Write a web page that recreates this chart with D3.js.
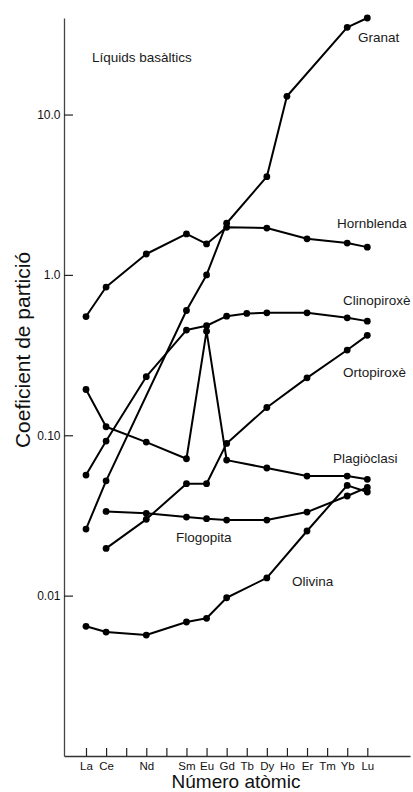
<!DOCTYPE html>
<html>
<head>
<meta charset="utf-8">
<script src="https://cdn.jsdelivr.net/npm/d3@7"></script>
<style>
  html, body { margin: 0; padding: 0; background: #fff; }
  svg { display: block; font-family: "Liberation Sans", Arial, sans-serif; }
</style>
</head>
<body>
<svg id="chart" width="413" height="792"></svg>
<script>
// ---- data ----
const elements = ['La','Ce','Pr','Nd','Pm','Sm','Eu','Gd','Tb','Dy','Ho','Er','Tm','Yb','Lu'];
const atomicNumbers = [57,58,59,60,61,62,63,64,65,66,67,68,69,70,71];
const xTickLabels = ['La','Ce','','Nd','','Sm','Eu','Gd','Tb','Dy','Ho','Er','Tm','Yb','Lu'];
const yTickValues = [0.01, 0.1, 1, 10];
const yTickLabels = ['0.01', '0.10', '1.0', '10.0'];

const granat      = [0.026, 0.052, null, null,   null, 0.60,   1.0,    2.1,    null,  4.1,    13,   null,   null, 35,     40];
const hornblenda  = [0.55,  0.84,  null, 1.35,   null, 1.80,   1.56,   1.98,   null,  1.96,   null, 1.68,   null, 1.58,   1.49];
const clinopiroxe = [0.0565,0.092, null, 0.232,  null, 0.453,  0.482,  0.553,  0.575, 0.58,   null, 0.58,   null, 0.54,   0.515];
const ortopiroxe  = [null,  0.0197,null, 0.0299, null, 0.0499, 0.0499, 0.089,  null,  0.149,  null, 0.228,  null, 0.34,   0.42];
const plagioclasi = [0.193, 0.113, null, 0.0907, null, 0.0714, 0.446,  0.070,  null,  0.0625, null, 0.0557, null, 0.0557, 0.0531];
const flogopita   = [null,  0.0335,null, 0.0326, null, 0.0309, 0.0302, 0.0296, null,  0.0296, null, 0.0332, null, 0.0418, 0.0473];
const olivina     = [0.00644,0.00593,null,0.00568,null,0.00685,0.00722,0.0097, null,  0.0129, null, 0.0253, null, 0.0487, 0.0443];

const seriesNames = ['Granat','Hornblenda','Clinopiroxè','Ortopiroxè','Plagiòclasi','Flogopita','Olivina'];
const seriesValues = [granat, hornblenda, clinopiroxe, ortopiroxe, plagioclasi, flogopita, olivina];

// ---- layout ----
const svg = d3.select('#chart');
const x = d3.scaleLinear().domain([55.905, 73.125]).range([64, 410]);
const y = d3.scaleLog().domain([0.001, 40]).range([756, 18]);

// axes
const xAxis = d3.axisBottom(x)
  .tickValues(atomicNumbers)
  .tickSizeInner(-8).tickSizeOuter(0).tickPadding(6)
  .tickFormat((d, i) => xTickLabels[i]);
const gx = svg.append('g').attr('transform', 'translate(0,756)').call(xAxis);
gx.select('.domain').attr('stroke', '#333').attr('stroke-width', 1.5);
gx.selectAll('.tick line').attr('stroke', '#222').attr('stroke-width', 1.2);
gx.selectAll('.tick text').attr('font-size', '11.5px').attr('fill', '#111')
  .attr('font-family', '"Liberation Sans", Arial, sans-serif');

const yAxis = d3.axisLeft(y)
  .tickValues(yTickValues)
  .tickSizeInner(-9).tickSizeOuter(0).tickPadding(3.5)
  .tickFormat((d, i) => yTickLabels[i]);
const gy = svg.append('g').attr('transform', 'translate(64,0)').call(yAxis);
gy.select('.domain').attr('stroke', '#444').attr('stroke-width', 1.3);
gy.selectAll('.tick line').attr('stroke', '#222').attr('stroke-width', 1.2);
gy.selectAll('.tick text').attr('font-size', '12px').attr('fill', '#111')
  .attr('font-family', '"Liberation Sans", Arial, sans-serif');

// axis titles
svg.append('text')
  .attr('x', 236).attr('y', 788)
  .attr('text-anchor', 'middle')
  .attr('font-size', '19px').attr('fill', '#111')
  .text('Número atòmic');

svg.append('text')
  .attr('transform', 'translate(30,350) rotate(-90)')
  .attr('text-anchor', 'middle')
  .attr('font-size', '21px').attr('fill', '#111')
  .text('Coeficient de partició');

// series
const line = d3.line()
  .defined(d => d.v != null)
  .x(d => x(d.z))
  .y(d => y(d.v));

seriesValues.forEach((vals, si) => {
  const pts = vals.map((v, i) => ({ z: atomicNumbers[i], v }))
                  .filter(d => d.v != null);
  svg.append('path')
    .datum(pts)
    .attr('fill', 'none')
    .attr('stroke', '#000')
    .attr('stroke-width', 2)
    .attr('stroke-linejoin', 'round')
    .attr('d', line);
  svg.append('g').selectAll('circle')
    .data(pts).enter().append('circle')
    .attr('cx', d => x(d.z))
    .attr('cy', d => y(d.v))
    .attr('r', 3.4)
    .attr('fill', '#000');
});

// labels
const labelTexts = ['Líquids basàltics', 'Granat', 'Hornblenda', 'Clinopiroxè', 'Ortopiroxè', 'Plagiòclasi', 'Flogopita', 'Olivina'];
const labelAnchors = [[92, 57], [358, 37], [337, 223], [343, 300], [343, 372], [333, 458], [176, 537], [292, 581]];
labelTexts.forEach((t, i) => {
  svg.append('text')
    .attr('x', labelAnchors[i][0]).attr('y', labelAnchors[i][1])
    .attr('dy', '0.35em')
    .attr('font-size', '13.5px').attr('fill', '#1a1a1a')
    .text(t);
});
</script>
</body>
</html>
